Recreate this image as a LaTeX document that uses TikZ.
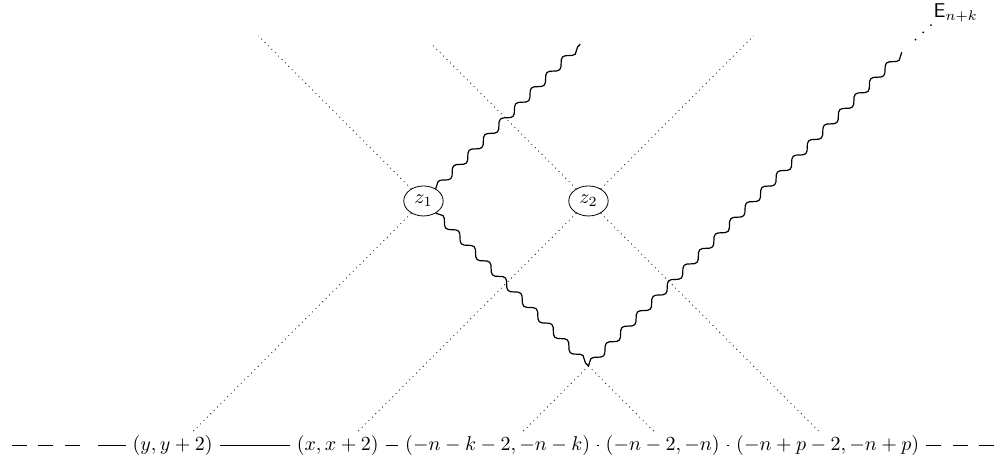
\documentclass[tikz,border=0pt]{standalone}
\usepackage{tikz}
\usepackage{amsmath}
\usetikzlibrary{decorations.pathmorphing,shapes.geometric}

\tikzset{
  vertex/.style={draw,ellipse,inner sep=2.4pt},
  wavy/.style={decorate,decoration={snake,amplitude=1.75pt,segment length=11pt},line width=0.6pt},
  loosedash/.style={dash pattern=on 7.5pt off 5.75pt},
}

\begin{document}
\begin{tikzpicture}[x=41.25pt,y=41.25pt]
\useasboundingbox (-7.133,-1.224) rectangle (5.085,4.436);
% the two vertices and the corner of the V
\node[vertex] (z1) at (-2,2) {$z_1$};
\node[vertex] (z2) at (0,2) {$z_2$};
\coordinate (v) at (0,0);
% free ends of the lines
\coordinate (t1) at (-4,4);
\coordinate (t2) at (-1.9,3.9);
\coordinate (t3) at (2,4);
\coordinate (wtop) at (-0.1,3.9);
\coordinate (wend) at (3.8,3.8);
\coordinate (b1) at (-4.8,-0.8);
\coordinate (b2) at (-2.8,-0.8);
\coordinate (b3) at (-0.8,-0.8);
\coordinate (b4) at (0.8,-0.8);
\coordinate (b5) at (2.8,-0.8);
% labels along the bottom
\node (ylab) at (-5.04,-0.96) {$(y,y+2)$};
\node (xlab) at (-3.04,-0.96) {$(x,x+2)$};
\node (nklab) at (-1.1,-0.96) {$(-n-k-2,-n-k)$};
\node (nlab) at (0.9,-0.96) {$(-n-2,-n)$};
\node (nplab) at (2.9,-0.96) {$(-n+p-2,-n+p)$};
\coordinate (lfar) at (-6.988,-0.96);
\coordinate (lend) at (-6.164,-0.96);
\coordinate (lcut) at (-5.945,-0.96);
\coordinate (rfar) at (4.964,-0.96);
\node[inner sep=0pt,anchor=base west] (E) at (4.18,4.22) {$\mathsf{E}_{n+k}$};
% dotted lines
\draw[dotted] (z1) -- (t1);
\draw[dotted] (z1) -- (b1);
\draw[dotted] (z2) -- (t2);
\draw[dotted] (z2) -- (b5);
\draw[dotted] (z2) -- (t3);
\draw[dotted] (z2) -- (b2);
\draw[dotted] (v) -- (b3);
\draw[dotted] (v) -- (b4);
% wavy lines
\draw[wavy] (z1) -- (wtop);
\draw[wavy] (z1) -- (v);
\draw[wavy] (v) -- (wend);
\draw[line width=1pt,line cap=round,dash pattern=on 0pt off 5.3pt,shorten <=9.3pt,shorten >=1pt] (wend) -- (E.south west);
% bottom chain
\draw[loosedash] (lfar) -- (lend);
\draw (lcut) -- (ylab);
\draw (ylab) -- (xlab);
\draw (xlab) -- (nklab);
\draw (nklab) -- (nlab);
\draw (nlab) -- (nplab);
\draw[loosedash] (nplab) -- (rfar);
\end{tikzpicture}
\end{document}
